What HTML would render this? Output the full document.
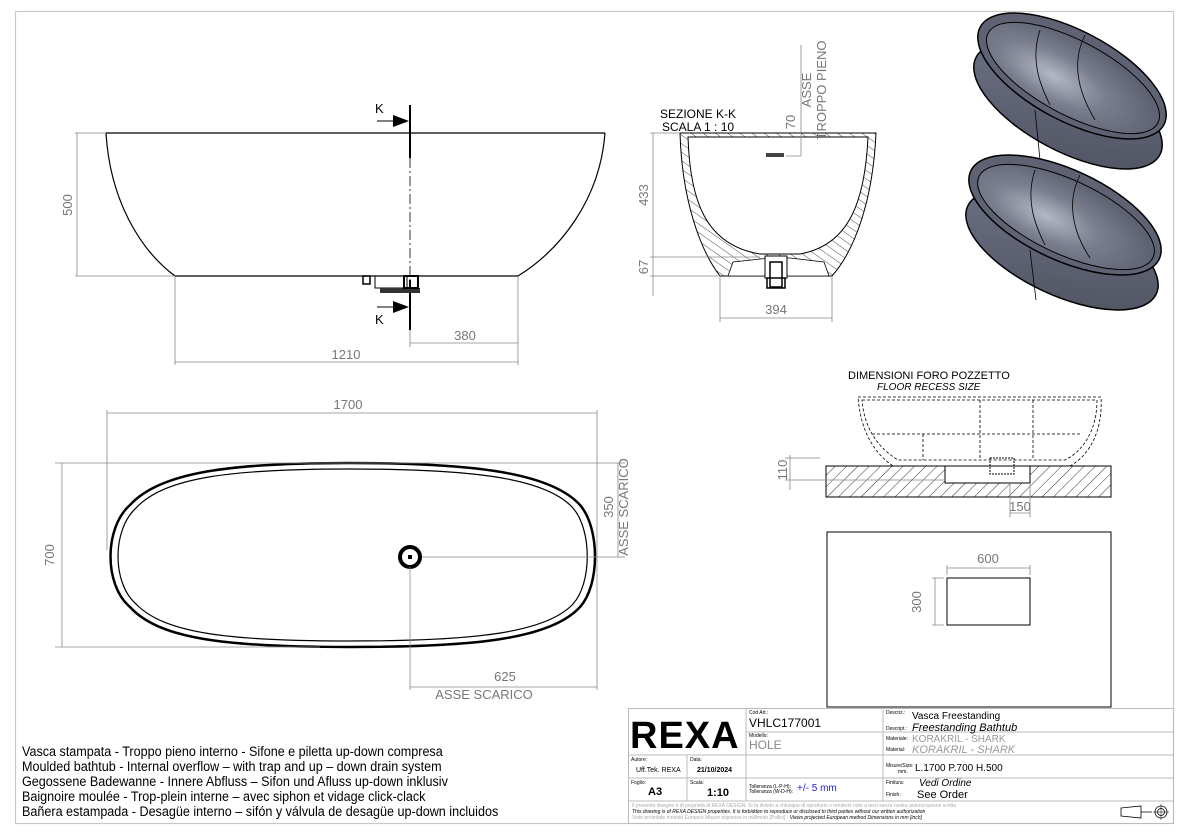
<!DOCTYPE html>
<html><head><meta charset="utf-8"><style>
html,body{margin:0;padding:0;background:#fff;}
svg{display:block;font-family:"Liberation Sans",sans-serif;}
.dim{stroke:#888;stroke-width:0.8;fill:none}
.dt{fill:#777;font-size:13px}
.k{stroke:#000;fill:none}
</style></head><body>
<svg width="1184" height="837" viewBox="0 0 1184 837" xmlns="http://www.w3.org/2000/svg">
<defs>
<pattern id="h" width="8" height="8" patternUnits="userSpaceOnUse" patternTransform="rotate(45)">
<line x1="0" y1="0" x2="0" y2="8" stroke="#000" stroke-width="0.8"/></pattern>
<pattern id="h2" width="7" height="7" patternUnits="userSpaceOnUse" patternTransform="rotate(-55)">
<line x1="0" y1="0" x2="0" y2="7" stroke="#000" stroke-width="0.7"/></pattern>
<radialGradient id="g" cx="0.4" cy="0.6" r="0.6"><stop offset="0" stop-color="#b4b8c6"/><stop offset="0.5" stop-color="#7a7e8e"/><stop offset="1" stop-color="#5e6272"/></radialGradient>
<linearGradient id="go" x1="0" y1="0" x2="1" y2="1"><stop offset="0" stop-color="#70748a"/><stop offset="1" stop-color="#4e515d"/></linearGradient>
</defs>
<rect x="15.5" y="11.5" width="1158" height="812" fill="none" stroke="#c8c8c8" stroke-width="1.2"/>

<!-- SIDE VIEW -->
<path class="k" stroke-width="1.2" d="M106 133 L605 133 M106 133 C110 200 140 250 175 276 L518 276 C560 250 600 200 605 133"/>
<line x1="410" y1="105" x2="410" y2="158" stroke="#000" stroke-width="2"/>
<line x1="410" y1="158" x2="410" y2="330" stroke="#000" stroke-width="0.8" stroke-dasharray="10,3,2,3"/>
<line x1="410" y1="280" x2="410" y2="330" stroke="#000" stroke-width="2"/>
<line x1="377" y1="121" x2="395" y2="121" stroke="#000"/><polygon points="393,115 409,121 393,127" fill="#000"/>
<line x1="377" y1="307" x2="395" y2="307" stroke="#000"/><polygon points="393,301 409,307 393,313" fill="#000"/>
<text x="375" y="113" font-size="13">K</text><text x="375" y="324" font-size="13">K</text>
<rect x="375" y="276" width="32" height="12" fill="none" stroke="#000"/>
<rect x="380" y="288" width="40" height="5" fill="#333"/>
<rect x="404" y="276" width="14" height="12" fill="none" stroke="#000" stroke-width="2"/>
<rect x="363" y="276" width="7" height="8" fill="none" stroke="#000" stroke-width="1.5"/>
<path class="dim" d="M75 133 L106 133 M75 276 L175 276 M77 133 L77 276 M175 276 L175 365 M518 276 L518 365 M410 330 L410 347 M410 343 L518 343 M175 362 L518 362"/>
<text class="dt" transform="translate(72 205) rotate(-90)" text-anchor="middle">500</text>
<text class="dt" x="465" y="340" text-anchor="middle">380</text>
<text class="dt" x="346" y="359" text-anchor="middle">1210</text>

<!-- SECTION -->
<text x="660" y="118" font-size="12">SEZIONE K-K</text>
<text x="662" y="131" font-size="12">SCALA 1 : 10</text>
<path d="M680 133 L876 133 C873 200 855 250 832 276 L720 276 C700 250 682 200 680 133 Z" fill="url(#h2)" stroke="#000" stroke-width="1"/>
<path d="M688 137 L868 137 C865 200 850 245 800 254 L760 254 C705 245 690 200 688 137 Z" fill="#fff" stroke="#000" stroke-width="1"/>
<path d="M728 276 L733 262 L770 258 L790 258 L824 262 L829 276 Z" fill="#fff" stroke="#000" stroke-width="0.8"/>
<rect x="766" y="153" width="18" height="4" fill="#444"/>
<rect x="765" y="256" width="22" height="22" fill="#fff" stroke="#000"/>
<rect x="770" y="262" width="12" height="25" fill="none" stroke="#000" stroke-width="1.5"/>
<rect x="767" y="278" width="18" height="10" fill="none" stroke="#000" stroke-width="1.5"/>
<path class="dim" d="M801 45 L801 156 M786 156 L801 156 M650 133 L680 133 M650 257 L760 257 M650 276 L720 276 M653 133 L653 296 M720 276 L720 322 M832 276 L832 322 M720 318 L832 318"/>
<text class="dt" transform="translate(648 195) rotate(-90)" text-anchor="middle">433</text>
<text class="dt" transform="translate(648 267) rotate(-90)" text-anchor="middle">67</text>
<text class="dt" x="776" y="314" text-anchor="middle">394</text>
<text class="dt" transform="translate(795 122) rotate(-90)" text-anchor="middle">70</text>
<text class="dt" transform="translate(811 90) rotate(-90)" text-anchor="middle">ASSE</text>
<text class="dt" transform="translate(826 90) rotate(-90)" text-anchor="middle">TROPPO PIENO</text>

<!-- RENDERS -->
<ellipse cx="1068" cy="106" rx="104" ry="45" transform="rotate(28 1068 106)" fill="url(#go)" stroke="#000" stroke-width="1.5"/>
<ellipse cx="1072" cy="76" rx="104" ry="45" transform="rotate(28 1072 76)" fill="#5e6272" stroke="#000" stroke-width="1.5"/>
<ellipse cx="1073" cy="78" rx="96" ry="37" transform="rotate(28 1073 78)" fill="url(#g)" stroke="#000" stroke-width="1"/>
<path d="M1035 110 L1040 160 M1085 35 C1070 65 1080 95 1095 120 M1040 30 C1030 60 1040 85 1050 105" stroke="#000" fill="none" stroke-width="0.8"/>

<ellipse cx="1062" cy="250" rx="104" ry="45" transform="rotate(25 1062 250)" fill="url(#go)" stroke="#000" stroke-width="1.5"/>
<ellipse cx="1065" cy="215" rx="104" ry="45" transform="rotate(25 1065 215)" fill="#5e6272" stroke="#000" stroke-width="1.5"/>
<ellipse cx="1066" cy="217" rx="96" ry="37" transform="rotate(25 1066 217)" fill="url(#g)" stroke="#000" stroke-width="1"/>
<path d="M1030 250 L1036 300 M1080 175 C1065 205 1075 235 1090 258 M1035 170 C1025 200 1035 225 1045 245" stroke="#000" fill="none" stroke-width="0.8"/>

<!-- PLAN VIEW -->
<path d="M350 463 C470 463 550 472 580 505 C600 528 600 585 580 607 C550 640 470 647 350 647 C230 647 160 640 130 607 C104 585 104 528 130 505 C160 472 230 463 350 463 Z" fill="none" stroke="#000" stroke-width="2.5"/>
<path d="M350 469 C468 469 545 477 573 508 C592 530 592 583 573 604 C545 634 468 641 350 641 C232 641 165 634 136 604 C112 583 112 530 136 508 C165 477 232 469 350 469 Z" fill="none" stroke="#000" stroke-width="1.2"/>
<circle cx="410" cy="557" r="10" fill="none" stroke="#000" stroke-width="4"/>
<rect x="408" y="555" width="4" height="4" fill="#000"/>
<path class="dim" d="M107 410 L107 550 M597 410 L597 690 M107 413 L597 413 M55 463 L625 463 M55 647 L320 647 M62 463 L62 647 M422 557 L625 557 M618 463 L618 557 M410 567 L410 690 M410 687 L597 687"/>
<text class="dt" x="348" y="409" text-anchor="middle" font-size="14">1700</text>
<text class="dt" transform="translate(54 555) rotate(-90)" text-anchor="middle">700</text>
<text class="dt" transform="translate(613 507) rotate(-90)" text-anchor="middle">350</text>
<text class="dt" transform="translate(628 507) rotate(-90)" text-anchor="middle">ASSE SCARICO</text>
<text class="dt" x="505" y="681" text-anchor="middle">625</text>
<text class="dt" x="484" y="699" text-anchor="middle">ASSE SCARICO</text>

<!-- FLOOR RECESS -->
<text x="848" y="379" font-size="11">DIMENSIONI FORO POZZETTO</text>
<text x="877" y="390" font-size="10" font-style="italic">FLOOR RECESS SIZE</text>
<g fill="none" stroke="#000" stroke-width="0.8" stroke-dasharray="3,2">
<path d="M858 397 L1101 397 C1103 430 1090 455 1070 466 L893 466 C870 450 860 425 858 397 Z"/>
<path d="M862 400 L1097 400 C1097 428 1085 450 1065 460 L898 460 C875 446 864 425 862 400 Z"/>
<path d="M872 434 L1080 434 M980 400 L980 460 M1033 400 L1033 460 M923 434 L923 460"/>
</g>
<rect x="826" y="466" width="285" height="31" fill="url(#h)" stroke="#000"/>
<rect x="945" y="466" width="85" height="17" fill="#fff" stroke="#000"/>
<rect x="990" y="458" width="24" height="16" fill="none" stroke="#000" stroke-dasharray="2,1"/>
<path class="dim" d="M785 458 L820 458 M785 480 L945 480 M790 455 L790 490 M1010 483 L1010 517 M1030 483 L1030 517 M1010 513 L1030 513"/>
<text class="dt" transform="translate(787 470) rotate(-90)" text-anchor="middle" font-size="11">110</text>
<text class="dt" x="1020" y="511" text-anchor="middle">150</text>

<rect x="827" y="532" width="284" height="175" fill="none" stroke="#000"/>
<rect x="947" y="578" width="83" height="47" fill="none" stroke="#000"/>
<path class="dim" d="M947 565 L947 575 M1030 565 L1030 575 M947 568 L1030 568 M932 578 L944 578 M932 625 L944 625 M935 578 L935 625"/>
<text class="dt" x="988" y="563" text-anchor="middle">600</text>
<text class="dt" transform="translate(921 602) rotate(-90)" text-anchor="middle">300</text>

<!-- NOTES -->
<g font-size="14" fill="#000" transform="translate(22 0) scale(0.9 1)">
<text x="0" y="756">Vasca stampata - Troppo pieno interno - Sifone e piletta up-down compresa</text>
<text x="0" y="771">Moulded bathtub - Internal overflow – with trap and up – down drain system</text>
<text x="0" y="786">Gegossene Badewanne - Innere Abfluss – Sifon und Afluss up-down inklusiv</text>
<text x="0" y="801">Baignoire moulée - Trop-plein interne – avec siphon et vidage click-clack</text>
<text x="0" y="816">Bañera estampada - Desagüe interno – sifón y válvula de desagüe up-down incluidos</text>
</g>

<!-- TITLE BLOCK -->
<g stroke="#bbb" stroke-width="1" fill="none">
<rect x="628.5" y="708.5" width="545" height="115"/>
<path d="M628 755 L1174 755 M628 778 L1174 778 M628 801 L1174 801 M687 755 L687 801 M746 708 L746 801 M883 708 L883 801 M746 732 L883 732 M883 732 L1174 732"/>
</g>
<text x="630" y="748" font-size="38" font-weight="bold" letter-spacing="1">REXA</text>
<g font-size="5" fill="#000">
<text x="749" y="714">Cod Art.:</text><text x="749" y="737">Modello:</text>
<text x="886" y="714">Descriz.:</text><text x="886" y="730">Descript.:</text>
<text x="886" y="740">Materiale:</text><text x="886" y="751">Material:</text>
<text x="631" y="761">Autore:</text><text x="690" y="761">Data:</text>
<text x="631" y="784">Foglio:</text><text x="690" y="784">Scala:</text>
<text x="749" y="788">Tolleranza (L-P-H):</text><text x="749" y="793">Tolleranza (W-D-H):</text>
<text x="886" y="767">Misure/Size:</text><text x="898" y="773">mm.</text>
<text x="886" y="784">Finitura:</text><text x="886" y="796">Finish:</text>
</g>
<text x="749" y="727" font-size="12">VHLC177001</text>
<text x="749" y="749" font-size="12" fill="#888">HOLE</text>
<text x="912" y="719" font-size="10">Vasca Freestanding</text>
<text x="912" y="731" font-size="11" font-style="italic">Freestanding Bathtub</text>
<text x="912" y="742" font-size="10" fill="#999">KORAKRIL - SHARK</text>
<text x="912" y="753" font-size="11" font-style="italic" fill="#999">KORAKRIL - SHARK</text>
<text x="636" y="772" font-size="7">Uff.Tek. REXA</text>
<text x="697" y="772" font-size="7" font-weight="bold">21/10/2024</text>
<text x="915" y="771" font-size="10">L.1700 P.700 H.500</text>
<text x="648" y="795" font-size="11" font-weight="bold">A3</text>
<text x="707" y="796" font-size="11" font-weight="bold">1:10</text>
<text x="797" y="791" font-size="10" fill="#2222dd">+/- 5 mm</text>
<text x="919" y="786" font-size="10" font-style="italic">Vedi Ordine</text>
<text x="917" y="798" font-size="11">See Order</text>
<g font-size="5">
<text x="632" y="807" fill="#aaa">Il presente disegno è di proprietà di REXA DESIGN. Si fa divieto a chiunque di riprodurlo o renderlo noto a terzi senza nostra autorizzazione scritta</text>
<text x="632" y="813" font-style="italic">This drawing is of REXA DESIGN properties. It is forbidden to reproduce or disclosed to third parties without our written authorization</text>
<text x="632" y="819" fill="#aaa">Viste proiettate metodo Europeo Misure espresse in millimetri [Pollici]  -  <tspan fill="#000" font-style="italic">Views projected European method Dimensions in mm [inch]</tspan></text>
</g>
<path d="M1121 808 L1141 806 L1141 818 L1121 816 Z M1141 812 L1152 812" fill="none" stroke="#000" stroke-width="0.8"/>
<circle cx="1161" cy="812" r="6" fill="none" stroke="#000" stroke-width="0.8"/>
<circle cx="1161" cy="812" r="3.5" fill="none" stroke="#000" stroke-width="0.8"/>
<path d="M1153 812 L1169 812 M1161 804 L1161 820" stroke="#000" stroke-width="0.5"/>
</svg>
</body></html>
